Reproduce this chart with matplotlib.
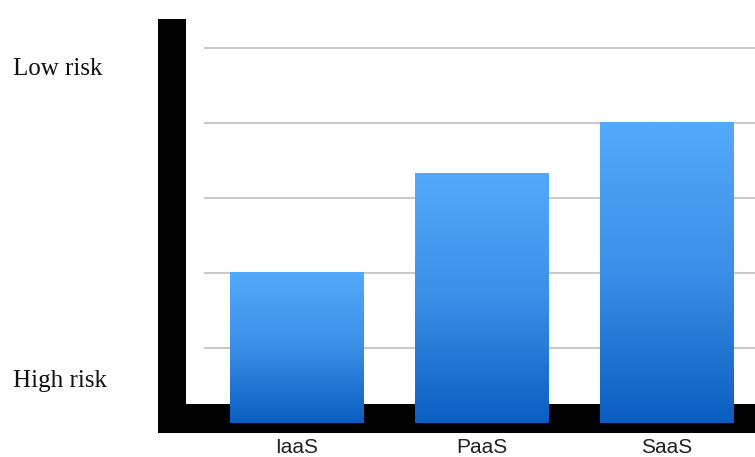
import numpy as np
import matplotlib
matplotlib.use("Agg")
import matplotlib.pyplot as plt
from matplotlib.colors import LinearSegmentedColormap

# data
categories = ["IaaS", "PaaS", "SaaS"]
values = [2.0, 3.33, 4.0]
grid_levels = [1, 2, 3, 4, 5]
risk_labels = ["Low risk", "High risk"]
risk_positions = [4.72, 0.56]

fig = plt.figure(figsize=(7.55, 4.57), dpi=100)
ax = fig.add_axes([0, 0, 1, 1])
ax.axis('off')

x = np.arange(len(categories))
width = 0.72
xmin, xmax = -1.603, 2.478
ymin, ymax = -0.4533, 5.64

# gridlines
for g in grid_levels:
    ax.plot([-0.5, xmax], [g, g], color='#c9c9c9', lw=1.5, zorder=1,
            solid_capstyle='butt')

# thick black L-shaped axis
ax.add_patch(plt.Rectangle((-0.749, -0.133), 0.152, 5.52,
                           color='black', lw=0, zorder=2))
ax.add_patch(plt.Rectangle((-0.749, -0.133), xmax + 0.749, 0.386,
                           color='black', lw=0, zorder=2))

# gradient bars
cmap = LinearSegmentedColormap.from_list("blues", ["#0a5ec0", "#3b8fe6", "#53a9fb"])
grad = np.linspace(0, 1, 256).reshape(-1, 1)
bars = ax.bar(x, values, width=width, color='none', lw=0, zorder=3)
for b in bars:
    x0, y0 = b.get_x(), b.get_y()
    ax.imshow(grad, extent=[x0, x0 + b.get_width(), y0, y0 + b.get_height()],
              origin='lower', aspect='auto', cmap=cmap, zorder=3,
              interpolation='bilinear')

# category labels
for xi, c in zip(x, categories):
    ax.text(xi, -0.32, c, ha='center', va='center', fontsize=15,
            family='Liberation Sans', color='#222222')

# risk labels
for lab, pos in zip(risk_labels, risk_positions):
    ax.text(-1.533, pos, lab, ha='left', va='center', fontsize=18,
            family='Liberation Serif', color='#111111')

ax.set_xlim(xmin, xmax)
ax.set_ylim(ymin, ymax)

plt.savefig("out.png", dpi=100)
